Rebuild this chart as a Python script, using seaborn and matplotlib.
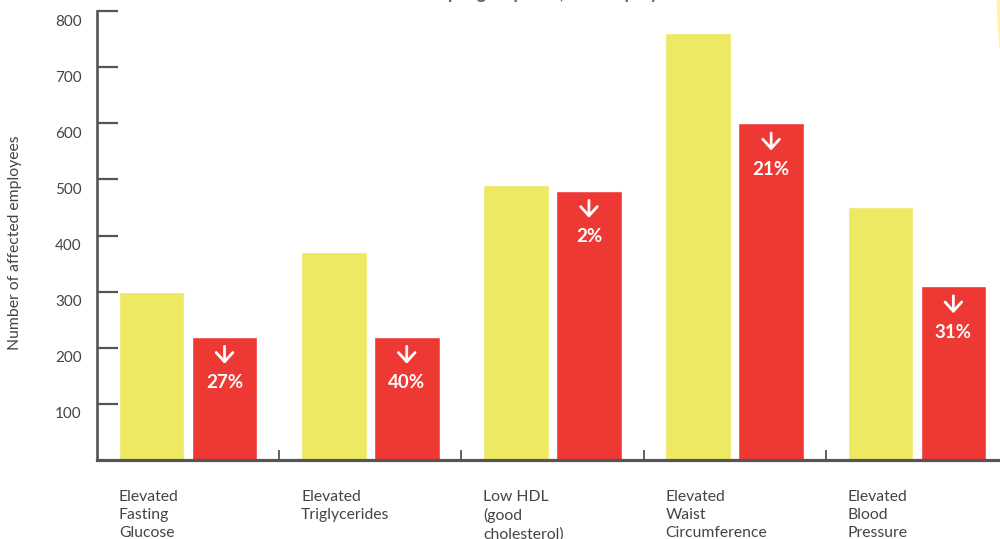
import matplotlib
matplotlib.use("Agg")
import matplotlib.pyplot as plt
import matplotlib.transforms as mtransforms
from matplotlib.patches import Polygon
import seaborn as sns
import pandas as pd

# ---- data ----
categories = ["Elevated\nFasting\nGlucose", "Elevated\nTriglycerides",
              "Low HDL\n(good\ncholesterol)", "Elevated\nWaist\nCircumference",
              "Elevated\nBlood\nPressure"]
before_vals = [300, 370, 490, 760, 450]
after_vals = [220, 220, 480, 600, 310]
reductions = [27, 40, 2, 21, 31]
yticks = [100, 200, 300, 400, 500, 600, 700, 800]
series_names = ["Before", "After"]
title_text = "Results in a sample group of 1,000 employees"
ylabel_text = "Number of affected employees"

YELLOW = "#EDE962"
RED = "#EE3834"
AXIS = "#555555"
TEXT = "#444444"

df = pd.DataFrame({
    "cat": list(range(len(categories))) * 2,
    "value": before_vals + after_vals,
    "period": [series_names[0]] * len(categories) + [series_names[1]] * len(categories),
})

sns.set_theme(style="white")
plt.rcParams["font.family"] = ["Lato", "DejaVu Sans"]

fig = plt.figure(figsize=(10, 5.39), dpi=100)
ax = fig.add_axes([0.097, 1 - 460 / 539, 1 - 0.097, 449 / 539])

sns.barplot(data=df, x="cat", y="value", hue="period", hue_order=series_names,
            palette=[YELLOW, RED], saturation=1, width=0.8, gap=0.1,
            legend=False, ax=ax, native_scale=False)

ax.set_xlim(-0.5, len(categories) - 1 + 0.456)
ax.set_ylim(0, 800)
ax.set_xlabel("")
ax.set_ylabel("")

for s in ["top", "right"]:
    ax.spines[s].set_visible(False)
ax.spines["left"].set_color(AXIS)
ax.spines["left"].set_linewidth(1.9)
ax.spines["bottom"].set_color(AXIS)
ax.spines["bottom"].set_linewidth(2.3)

ax.set_yticks(yticks)
ax.set_yticklabels([str(v) for v in yticks])
ax.tick_params(axis="y", direction="in", length=15, width=1.6, color=AXIS,
               labelsize=11, labelcolor=TEXT, pad=11, left=True)
offset = mtransforms.ScaledTranslation(0, -9 / 100, fig.dpi_scale_trans)
for lab in ax.get_yticklabels():
    lab.set_transform(lab.get_transform() + offset)

ax.set_xticks([i + 0.5 for i in range(len(categories) - 1)])
ax.set_xticklabels([])
ax.tick_params(axis="x", direction="in", length=7, width=1.3, color=AXIS, bottom=True)
ax.grid(False)

# category labels
trans = mtransforms.blended_transform_factory(ax.transData, ax.transAxes)
for i, c in enumerate(categories):
    ax.text(i - 0.38, -0.066, c, transform=trans, ha="left", va="top",
            fontsize=11.3, color=TEXT, linespacing=1.36)

# arrows and reduction labels in red bars
px = 800 / 449.0
for i, (v, r) in enumerate(zip(after_vals, reductions)):
    x = i + 0.2
    ax.annotate("", xy=(x, v - 30 * px), xytext=(x, v - 7 * px),
                arrowprops=dict(arrowstyle="->,head_length=0.55,head_width=0.5",
                                color="white", lw=2))
    ax.text(x, v - 46 * px, f"{r}%", ha="center", va="center", color="white",
            fontsize=13.5, fontweight="bold")

# y label
fig.text(0.015, 1 - 243 / 539, ylabel_text, rotation=90, ha="center", va="center",
         fontsize=11.3, color=TEXT)

# title cut at top
fig.text(0.503, 1 + 0.5 / 539, title_text, ha="center", va="baseline",
         fontsize=13, fontweight="bold", color="#666666")

# decorative sliver top-right
fig.patches.append(Polygon([[996.5 / 1000, 1.0], [1.0, 1.0], [1.0, 1 - 48 / 539],
                            [999 / 1000, 1 - 46 / 539]], closed=True,
                           transform=fig.transFigure, facecolor="#FFF3A8",
                           edgecolor="none"))

fig.savefig("out.png", dpi=100)
